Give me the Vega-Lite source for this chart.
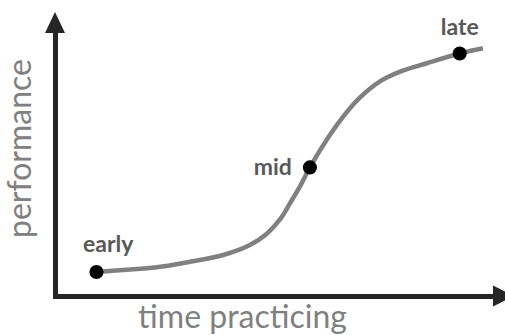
{
  "$schema": "https://vega.github.io/schema/vega-lite/v6.json",
  "width": 438,
  "height": 263,
  "padding": {"left": 55, "top": 33, "right": 12, "bottom": 39},
  "autosize": {"type": "none"},
  "background": "white",
  "config": {"view": {"stroke": null}},
  "datasets": {
    "curve": [
      {"x": 9.47, "y": 9.13},
      {"x": 15.5, "y": 9.9},
      {"x": 23.2, "y": 10.9},
      {"x": 30.8, "y": 13.0},
      {"x": 38.4, "y": 15.6},
      {"x": 44.5, "y": 19.4},
      {"x": 48.3, "y": 23.6},
      {"x": 51.4, "y": 29.2},
      {"x": 53.7, "y": 35.4},
      {"x": 55.9, "y": 41.6},
      {"x": 58.2, "y": 48.9},
      {"x": 62.0, "y": 59.3},
      {"x": 65.8, "y": 68.2},
      {"x": 69.6, "y": 75.4},
      {"x": 74.2, "y": 81.6},
      {"x": 78.8, "y": 85.3},
      {"x": 84.9, "y": 88.5},
      {"x": 92.4, "y": 92.2},
      {"x": 97.7, "y": 94.2}
    ],
    "stages": [
      {"stage": "early", "x": 9.47, "y": 9.13},
      {"stage": "mid", "x": 58.2, "y": 48.9},
      {"stage": "late", "x": 92.4, "y": 92.2}
    ],
    "arrows": [
      {"axis": "x", "x": 100, "y": 0},
      {"axis": "y", "x": 0, "y": 100}
    ]
  },
  "encoding": {
    "x": {
      "field": "x", "type": "quantitative",
      "scale": {"domain": [0, 100], "nice": false, "zero": false},
      "axis": {
        "domain": true, "domainColor": "#262626", "domainWidth": 5, "domainCap": "square",
        "ticks": false, "labels": false, "grid": false,
        "title": "time practicing", "titleFont": "Lato", "titleFontSize": 32,
        "titleFontWeight": "normal", "titleColor": "#808080",
        "titleX": 187, "titleY": 31, "titleAlign": "center", "titleBaseline": "alphabetic"
      }
    },
    "y": {
      "field": "y", "type": "quantitative",
      "scale": {"domain": [0, 100], "nice": false, "zero": false},
      "axis": {
        "domain": true, "domainColor": "#262626", "domainWidth": 5, "domainCap": "square",
        "ticks": false, "labels": false, "grid": false,
        "title": "performance", "titleFont": "Lato", "titleFontSize": 32,
        "titleFontWeight": "normal", "titleColor": "#808080", "titleAngle": 270,
        "titleX": -25, "titleY": 115, "titleAlign": "center", "titleBaseline": "alphabetic"
      }
    }
  },
  "layer": [
    {
      "data": {"name": "curve"},
      "mark": {"type": "line", "interpolate": "catmull-rom", "color": "#808080", "strokeWidth": 4.5, "strokeCap": "butt"}
    },
    {
      "data": {"name": "arrows"},
      "mark": {"type": "point", "filled": true, "color": "#262626", "opacity": 1, "size": 400, "strokeWidth": 0},
      "encoding": {
        "shape": {
          "field": "axis", "type": "nominal",
          "scale": {"domain": ["x", "y"], "range": ["M0,-1.05L2.1,0L0,1.05Z", "M-1,0L0,-2.1L1,0Z"]},
          "legend": null
        }
      }
    },
    {
      "data": {"name": "stages"},
      "mark": {"type": "circle", "color": "black", "opacity": 1, "size": 200}
    },
    {
      "data": {"name": "stages"},
      "transform": [{"filter": "datum.stage === 'early'"}],
      "mark": {"type": "text", "font": "Lato", "fontWeight": "bold", "fontSize": 23, "color": "#595959", "align": "left", "baseline": "alphabetic", "dx": -13.5, "dy": -20},
      "encoding": {"text": {"field": "stage"}}
    },
    {
      "data": {"name": "stages"},
      "transform": [{"filter": "datum.stage === 'mid'"}],
      "mark": {"type": "text", "font": "Lato", "fontWeight": "bold", "fontSize": 23, "color": "#595959", "align": "right", "baseline": "alphabetic", "dx": -18, "dy": 8},
      "encoding": {"text": {"field": "stage"}}
    },
    {
      "data": {"name": "stages"},
      "transform": [{"filter": "datum.stage === 'late'"}],
      "mark": {"type": "text", "font": "Lato", "fontWeight": "bold", "fontSize": 23, "color": "#595959", "align": "center", "baseline": "alphabetic", "dx": 0, "dy": -19},
      "encoding": {"text": {"field": "stage"}}
    }
  ]
}
